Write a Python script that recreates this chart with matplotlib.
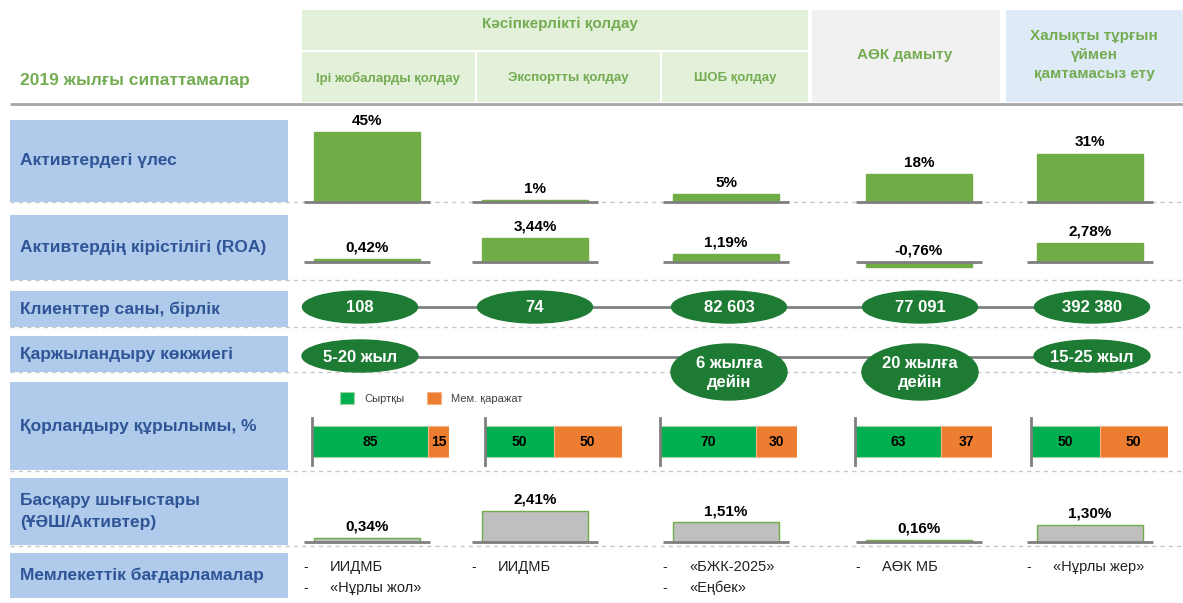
import numpy as np
import matplotlib
matplotlib.use("Agg")
import matplotlib.pyplot as plt
from matplotlib.patches import Rectangle, Ellipse

# --- data -------------------------------------------------------------
title = "2019 жылғы сипаттамалар"
group_top = "Кәсіпкерлікті қолдау"
sub_groups = ["Ірі жобаларды қолдау", "Экспортты қолдау", "ШОБ қолдау"]
other_groups = ["АӨК дамыту", "Халықты тұрғын\nүймен\nқамтамасыз ету"]

row_labels = [
    "Активтердегі үлес",
    "Активтердің кірістілігі (ROA)",
    "Клиенттер саны, бірлік",
    "Қаржыландыру көкжиегі",
    "Қорландыру құрылымы, %",
    "Басқару шығыстары\n(ҰӘШ/Активтер)",
    "Мемлекеттік бағдарламалар",
]

asset_share = [45, 1, 5, 18, 31]
roa = [0.42, 3.44, 1.19, -0.76, 2.78]
clients = [108, 74, 82603, 77091, 392380]
horizon = ["5-20 жыл", None, "6 жылға\nдейін", "20 жылға\nдейін", "15-25 жыл"]
funding_names = ["Сыртқы", "Мем. қаражат"]
external = [85, 50, 70, 63, 50]
state_funds = [15, 50, 30, 37, 50]
admin_costs = [0.34, 2.41, 1.51, 0.16, 1.30]
programs = [["ИИДМБ", "«Нұрлы жол»"], ["ИИДМБ"], ["«БЖК-2025»", "«Еңбек»"],
            ["АӨК МБ"], ["«Нұрлы жер»"]]

# --- layout (pixels) --------------------------------------------------
W, H = 1183, 603
col_x = np.array([367, 535, 726, 919, 1090])
ell_x = np.array([360, 535, 729, 920, 1092])
stack_x0 = [312, 485, 660, 855, 1031]
box_rows = [(120, 202), (215, 280), (291, 327), (336, 372), (382, 470), (478, 545), (553, 598)]
separators = [202, 280, 327, 372, 471, 546]

GREEN = "#70ad47"
HEAD_GREEN = "#74ac52"
DARK_GREEN = "#1e7b34"
LABEL_BLUE = "#afcaea"
TEXT_BLUE = "#2f5597"
NARROW = ["Liberation Sans Narrow", "Liberation Sans", "DejaVu Sans"]
SANS = ["Liberation Sans", "DejaVu Sans"]

fig = plt.figure(figsize=(W / 100, H / 100), dpi=100)
bg = fig.add_axes([0, 0, 1, 1])
bg.set_xlim(0, W)
bg.set_ylim(H, 0)
bg.axis("off")

# header
bg.add_patch(Rectangle((302, 10), 506, 40, color="#e3f0da", lw=0))
for x0, w in [(302, 173), (477, 183), (662, 146)]:
    bg.add_patch(Rectangle((x0, 52), w, 50, color="#e3f0da", lw=0))
bg.add_patch(Rectangle((812, 10), 188, 92, color="#f1f1f1", lw=0))
bg.add_patch(Rectangle((1006, 10), 177, 92, color="#deeaf6", lw=0))
bg.text(560, 24, group_top, ha="center", va="center", color=HEAD_GREEN, fontsize=11,
        weight="bold", family=SANS)
for xc, name in zip([388, 568, 735], sub_groups):
    bg.text(xc, 78, name, ha="center", va="center", color=HEAD_GREEN, fontsize=9.5,
            weight="bold", family=SANS)
bg.text(905, 55, other_groups[0], ha="center", va="center", color=HEAD_GREEN, fontsize=11,
        weight="bold", family=SANS)
bg.text(1094, 55, other_groups[1], ha="center", va="center", color=HEAD_GREEN, fontsize=11,
        weight="bold", family=SANS, linespacing=1.45)
bg.text(20, 80, title, ha="left", va="center", color=HEAD_GREEN, fontsize=12.5, weight="bold",
        family=SANS)
bg.hlines(104, 10, W, color="#a6a6a6", lw=2)

# row label boxes
for (y0, y1), lab in zip(box_rows, row_labels):
    bg.add_patch(Rectangle((10, y0), 278, y1 - y0, color=LABEL_BLUE, lw=0))
    bg.text(20, (y0 + y1) / 2, lab, ha="left", va="center", color=TEXT_BLUE, fontsize=12.5,
            weight="bold", family=SANS, linespacing=1.6)
for y in separators:
    bg.hlines(y, 10, W, color="#c8c8c8", lw=1, linestyles=(0, (3, 3)), zorder=0)


def overlay(base, ppu):
    ax = fig.add_axes([0, 0, 1, 1], facecolor="none")
    ax.set_xlim(0, W)
    ax.set_ylim(-(H - base) / ppu, base / ppu)
    ax.axis("off")
    return ax


def bar_row(ax, vals, labels, face, edge):
    ax.bar(col_x, vals, width=106, color=face, edgecolor=edge, lw=1, zorder=2)
    ax.hlines(np.zeros(len(col_x)), col_x - 63, col_x + 63, color="#7f7f7f", lw=2, zorder=3)
    for x, v, lab in zip(col_x, vals, labels):
        ax.annotate(lab, (x, max(v, 0)), xytext=(0, 3), textcoords="offset points",
                    ha="center", va="bottom", fontsize=11, weight="bold", family=NARROW)


def pct(v):
    return f"{v:.2f}%".replace(".", ",")


bar_row(overlay(202, 1.56), asset_share, [f"{v}%" for v in asset_share], GREEN, GREEN)
bar_row(overlay(262, 7.0), roa, [pct(v) for v in roa], GREEN, GREEN)
bar_row(overlay(542, 13.0), admin_costs, [pct(v) for v in admin_costs], "#bfbfbf", GREEN)

# clients row
bg.hlines(307, ell_x[0], ell_x[-1], color="#7f7f7f", lw=2, zorder=1)
for x, v in zip(ell_x, clients):
    bg.add_patch(Ellipse((x, 307), 115, 32, color=DARK_GREEN, zorder=2))
    bg.text(x, 308, f"{v:,}".replace(",", " "), ha="center", va="center", color="white",
            fontsize=12, weight="bold", family=NARROW, zorder=3)

# horizon row
bg.hlines(357, ell_x[0], ell_x[-1], color="#7f7f7f", lw=2, zorder=1)
for x, lab in zip(ell_x, horizon):
    if lab is None:
        continue
    two = "\n" in lab
    yc = 372 if two else 356
    bg.add_patch(Ellipse((x, yc), 116, 56 if two else 32, color=DARK_GREEN, zorder=2))
    bg.text(x, yc + 1, lab, ha="center", va="center", color="white", fontsize=12,
            weight="bold", family=NARROW, linespacing=1.25, zorder=3)

# funding structure row
handles = None
for i, x0 in enumerate(stack_x0):
    ax = fig.add_axes([x0 / W, 1 - 465 / H, 137 / W, 47 / H], facecolor="none")
    ax.set_xlim(0, 100)
    ax.set_ylim(-0.75, 0.75)
    b1 = ax.barh(0, external[i], height=1.0, color="#00b050", edgecolor="#9fd49f", lw=0.8)
    b2 = ax.barh(0, state_funds[i], left=external[i], height=1.0, color="#ed7d31",
                 edgecolor="#f4b183", lw=0.8)
    ax.text(external[i] / 2, 0, str(external[i]), ha="center", va="center", fontsize=10,
            weight="bold", family=NARROW)
    ax.text(external[i] + state_funds[i] / 2, 0, str(state_funds[i]), ha="center", va="center",
            fontsize=10, weight="bold", family=NARROW)
    ax.set_xticks([])
    ax.set_yticks([])
    for s in ["top", "right", "bottom"]:
        ax.spines[s].set_visible(False)
    ax.spines["left"].set_color("#7f7f7f")
    ax.spines["left"].set_linewidth(2)
    handles = [b1, b2]

fig.legend(handles, funding_names, loc="center left", bbox_to_anchor=(330 / W, 1 - 398 / H),
           ncol=2, frameon=False, handlelength=1.3, handleheight=1.3, handletextpad=0.9,
           columnspacing=2.0, labelcolor="#404040", prop={"family": NARROW, "size": 8})

# programs row
for x, items in zip(col_x, programs):
    for j, item in enumerate(items):
        y = 567 + 21 * j
        bg.text(x - 64, y, "-", ha="left", va="center", fontsize=10, family=SANS, color="#222222")
        bg.text(x - 37, y, item, ha="left", va="center", fontsize=10.5, family=NARROW,
                color="#222222")

fig.savefig("out.png", dpi=100)
